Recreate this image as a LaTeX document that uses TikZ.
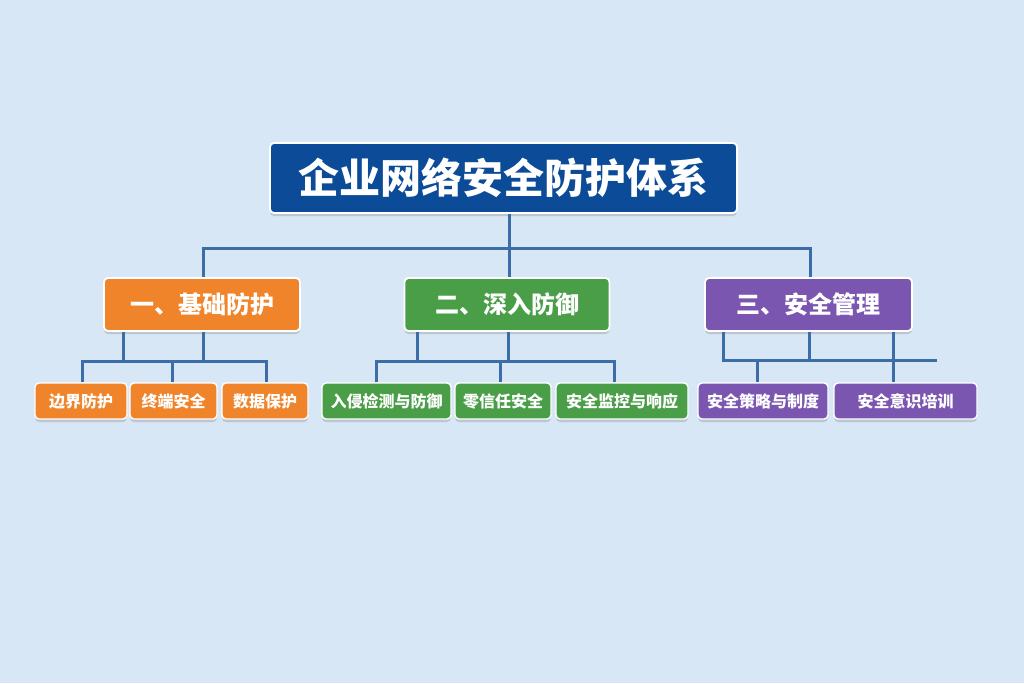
\documentclass[tikz,border=0pt]{standalone}
\usepackage{fontspec}
\setmainfont{Noto Sans CJK SC}
\usetikzlibrary{shadows}
\definecolor{bgc}{HTML}{D8E7F5}
\definecolor{titlec}{HTML}{0B4B97}
\definecolor{orc}{HTML}{F0842A}
\definecolor{grc}{HTML}{4A9E48}
\definecolor{puc}{HTML}{7A56B0}
\definecolor{linec}{HTML}{3B6EA6}
\tikzset{
  box/.style={draw=white, line width=1.8pt, rounded corners=4pt, text=white, font=\bfseries, inner sep=0pt,
    drop shadow={shadow xshift=0pt, shadow yshift=-3pt, opacity=.25, fill=black!60}},
  titlebox/.style={box, fill=titlec, minimum width=467pt, minimum height=70pt, font=\bfseries\fontsize{41}{45}\selectfont},
  catbox/.style={box, minimum height=53pt, font=\bfseries\fontsize{24}{28}\selectfont},
  leafbox/.style={box, minimum height=36pt, line width=1.4pt, font=\bfseries\fontsize{16}{19}\selectfont},
  conn/.style={draw=linec, line width=3pt}
}
\begin{document}
\begin{tikzpicture}[x=1pt,y=-1pt]
\fill[bgc] (0,0) rectangle (1024,683);
\useasboundingbox (0,0) rectangle (1024,683);
% title
\node[titlebox] (title) at (503.5,178) {企业网络安全防护体系};
% categories
\node[catbox, fill=orc, minimum width=196pt] (cat1) at (202,304.5) {一、基础防护};
\node[catbox, fill=grc, minimum width=205pt] (cat2) at (507,304.5) {二、深入防御};
\node[catbox, fill=puc, minimum width=207pt] (cat3) at (808.5,304.5) {三、安全管理};
% leaves
\node[leafbox, fill=orc, minimum width=92pt] (l1) at (81,401) {边界防护};
\node[leafbox, fill=orc, minimum width=87pt] (l2) at (173.5,401) {终端安全};
\node[leafbox, fill=orc, minimum width=86pt] (l3) at (265,401) {数据保护};
\node[leafbox, fill=grc, minimum width=129pt] (g1) at (386.5,401) {入侵检测与防御};
\node[leafbox, fill=grc, minimum width=96pt] (g2) at (503,401) {零信任安全};
\node[leafbox, fill=grc, minimum width=132pt] (g3) at (622,401) {安全监控与响应};
\node[leafbox, fill=puc, minimum width=130pt] (p1) at (763,401) {安全策略与制度};
\node[leafbox, fill=puc, minimum width=143pt] (p2) at (905.5,401) {安全意识培训};
% bus coordinates
\coordinate (t0) at (509,248);
\coordinate (tl) at (203,248);
\coordinate (tr) at (810,248);
\coordinate (ou1) at (123,361);
\coordinate (ou2) at (203,361);
\coordinate (ob1) at (82,361);
\coordinate (ob2) at (172,361);
\coordinate (ob3) at (266,361);
\coordinate (gu1) at (417,361);
\coordinate (gu2) at (508,361);
\coordinate (gb1) at (376,361);
\coordinate (gb2) at (500,361);
\coordinate (gb3) at (614,361);
\coordinate (pu1) at (723,360);
\coordinate (pu2) at (809,360);
\coordinate (pu3) at (893,360);
\coordinate (pb1) at (757,360);
\coordinate (pbr) at (937,360);
% top level connectors
\draw[conn] (title.south -| t0) -- (t0);
\draw[conn] (cat1.north -| tl) -- (tl) -- (tr) -- (cat3.north -| tr);
\draw[conn] (t0) -- (cat2.north -| t0);
% orange group
\draw[conn] (cat1.south -| ou1) -- (ou1);
\draw[conn] (cat1.south -| ou2) -- (ou2);
\draw[conn] (l1.north -| ob1) -- (ob1) -- (ob3) -- (l3.north -| ob3);
\draw[conn] (ob2) -- (l2.north -| ob2);
% green group
\draw[conn] (cat2.south -| gu1) -- (gu1);
\draw[conn] (cat2.south -| gu2) -- (gu2);
\draw[conn] (g1.north -| gb1) -- (gb1) -- (gb3) -- (g3.north -| gb3);
\draw[conn] (gb2) -- (g2.north -| gb2);
% purple group
\draw[conn] (cat3.south -| pu1) -- (pu1) -- (pbr);
\draw[conn] (cat3.south -| pu2) -- (pu2);
\draw[conn] (cat3.south -| pu3) -- (p2.north -| pu3);
\draw[conn] (pb1) -- (p1.north -| pb1);
\end{tikzpicture}
\end{document}
